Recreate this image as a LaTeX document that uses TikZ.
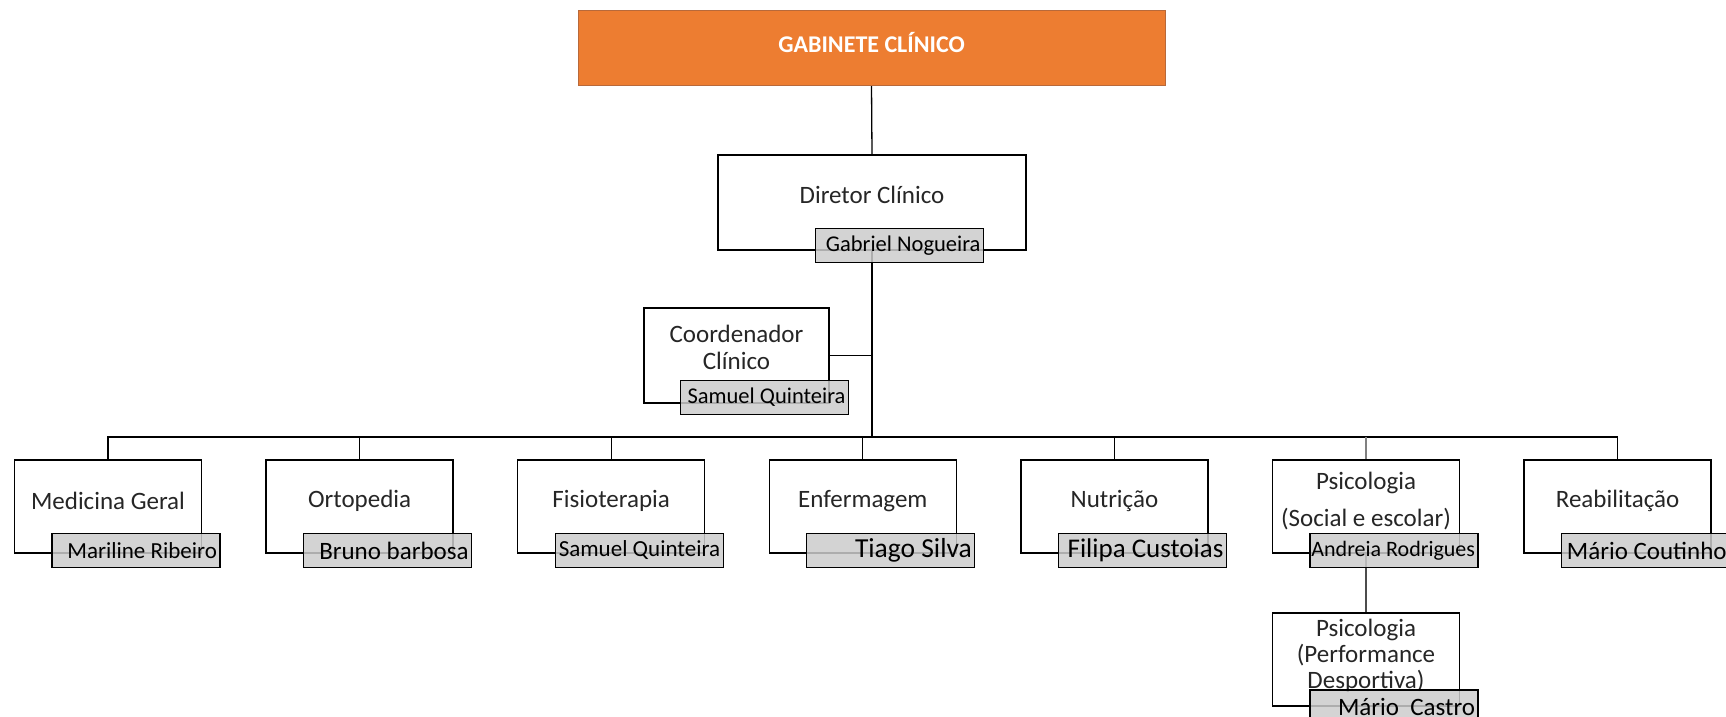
\documentclass[tikz,border=0pt]{standalone}
\usepackage{fontspec}
\setmainfont{Carlito}
\usetikzlibrary{calc}
\pgfdeclarelayer{bg}
\pgfsetlayers{bg,main}
\definecolor{orangeF}{HTML}{ED7D31}
\definecolor{orangeD}{HTML}{B8693A}
\definecolor{lblgray}{HTML}{CCCCCC}
\definecolor{txt}{HTML}{262626}
\newcommand{\nmtext}[1]{\makebox[162pt][r]{#1}}
\begin{document}
\begin{tikzpicture}[x=1pt,y=-1pt,
  box/.style={draw=black, line width=1.3pt, fill=white, minimum width=187pt, minimum height=93pt, inner sep=0pt},
  ttl/.style={text=txt, font=\fontsize{25}{30}\selectfont, align=center, inner sep=0pt},
  namelbl/.style={draw=black, line width=1.2pt, fill=lblgray, fill opacity=0.85, text opacity=1, minimum height=34pt, minimum width=168pt, inner xsep=3pt, inner ysep=0pt, text=black},
  conn/.style={draw=black, line width=1.3pt}]
\useasboundingbox (0,0) rectangle (1726,717);

% top
\node[draw=orangeD, line width=1pt, fill=orangeF, minimum width=587pt, minimum height=74pt] (top) at (871.5,48) {};
\node[text=white, font=\fontsize{24}{28}\selectfont\bfseries, inner sep=0pt] (topT) at (871.5,43) {GABINETE CLÍNICO};

% director
\node[box, minimum width=308pt, minimum height=95pt] (dir) at (872,202.5) {};
\node[ttl] (dirT) at (872,195) {Diretor Clínico};
\node[namelbl, font=\fontsize{22.5}{26}\selectfont] (dirN) at (899.5,245.5) {\nmtext{Gabriel Nogueira}};

% coordenador
\node[box, minimum width=185pt, minimum height=95pt] (coord) at (736.5,355.5) {};
\node[ttl, font=\fontsize{25}{27}\selectfont] (coordT) at (736.5,347.5) {Coordenador\\Clínico};
\node[namelbl, font=\fontsize{22.5}{26}\selectfont] (coordN) at (764.5,397.5) {\nmtext{Samuel Quinteira}};

\coordinate (bus) at (872,437);

% children
\node[box] (med) at (108,506.5) {};
\node[ttl] (medT) at (108,501) {Medicina Geral};
\node[box] (orto) at (359.6,506.5) {};
\node[ttl] (ortoT) at (359.6,501) {Ortopedia};
\node[box] (fisio) at (611.2,506.5) {};
\node[ttl] (fisioT) at (611.2,501) {Fisioterapia};
\node[box] (enf) at (862.8,506.5) {};
\node[ttl] (enfT) at (862.8,501) {Enfermagem};
\node[box] (nutr) at (1114.4,506.5) {};
\node[ttl] (nutrT) at (1114.4,501) {Nutrição};
\node[box] (psi) at (1366,506.5) {};
\node[ttl, font=\fontsize{25}{37}\selectfont] (psiT) at (1366,501) {Psicologia\\(Social e escolar)};
\node[box] (reab) at (1617.6,506.5) {};
\node[ttl] (reabT) at (1617.6,501) {Reabilitação};
\node[box] (perf) at (1366,659.5) {};
\node[ttl, font=\fontsize{25}{26}\selectfont] (perfT) at (1366,656) {Psicologia\\(Performance\\Desportiva)};

% name labels
\node[namelbl, font=\fontsize{23}{26}\selectfont] (medN) at (136,550.5) {\nmtext{Mariline Ribeiro}};
\node[namelbl, font=\fontsize{25}{28}\selectfont] (ortoN) at (387.6,550.5) {\nmtext{Bruno barbosa}};
\node[namelbl, font=\fontsize{23}{26}\selectfont] (fisioN) at (639.2,550.5) {\nmtext{Samuel Quinteira}};
\node[namelbl, font=\fontsize{27.5}{30}\selectfont] (enfN) at (890.8,550.5) {\nmtext{Tiago Silva}};
\node[namelbl, font=\fontsize{27}{30}\selectfont] (nutrN) at (1142.4,550.5) {\nmtext{Filipa Custoias}};
\node[namelbl, font=\fontsize{22}{26}\selectfont] (psiN) at (1394,550.5) {\nmtext{Andreia Rodrigues}};
\node[namelbl, font=\fontsize{25}{28}\selectfont] (reabN) at (1645.6,550.5) {\nmtext{Mário Coutinho}};
\node[namelbl, font=\fontsize{25}{28}\selectfont] (perfN) at (1394,707) {\nmtext{Mário\ \ Castro}};

% connectors
\begin{pgfonlayer}{bg}
\draw[conn] (top.south) -- (dir.north);
\draw[conn, line width=2.6pt] (dir.south) -- (bus);
\draw[conn] (coord.east) -- (coord.east -| bus);
\draw[conn] (med.north) |- (bus) -| (reab.north);
\foreach \n in {orto,fisio,enf,nutr} {\draw[conn] (\n.north) -- (\n.north |- bus);}
\draw[conn, draw=gray] (psi.north) -- (psi.north |- bus);
\draw[conn, draw=black!70] (psi.south) -- (perf.north);
\end{pgfonlayer}
\end{tikzpicture}
\end{document}
